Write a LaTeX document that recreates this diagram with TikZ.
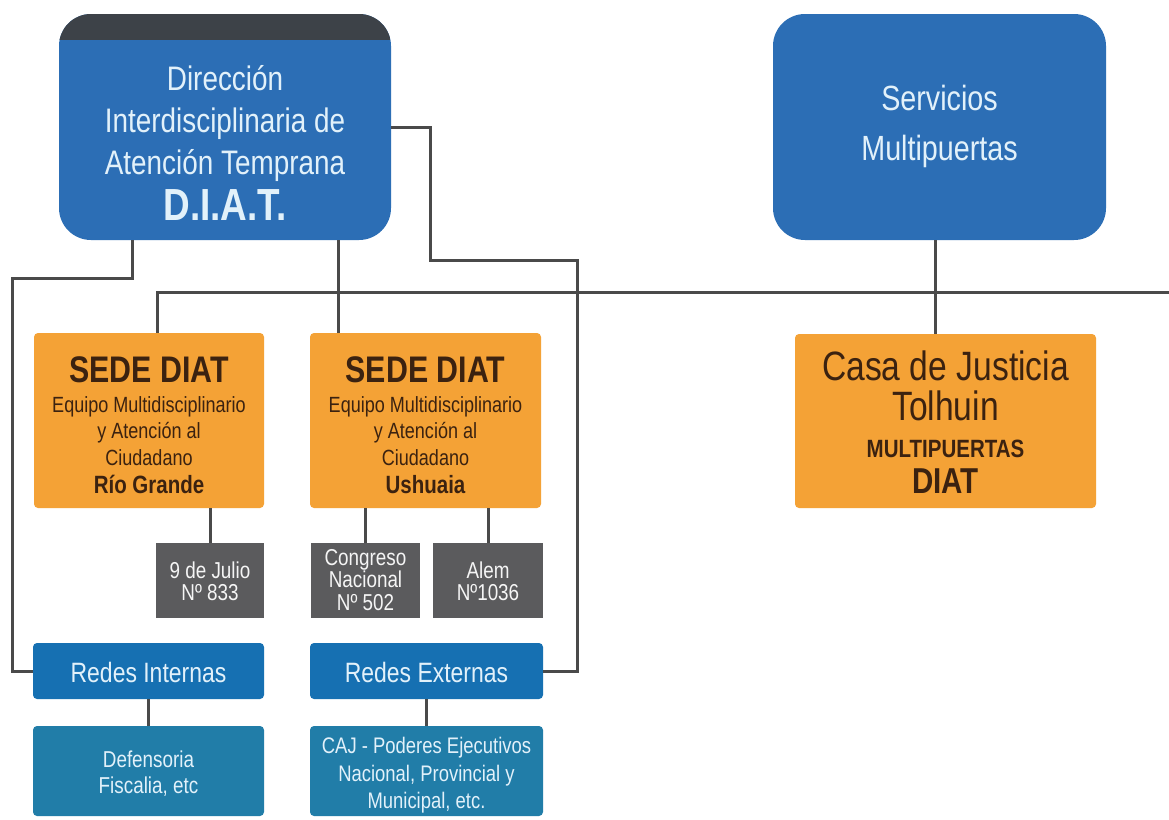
\documentclass[tikz,border=0pt]{standalone}
\usepackage{fontspec}
\setmainfont[FakeStretch=0.82]{Liberation Sans}
\newcommand\fsz[1]{\fontsize{#1}{#1}\selectfont}
\definecolor{mainblue}{RGB}{44,110,181}
\definecolor{darkband}{RGB}{61,66,72}
\definecolor{orangebox}{RGB}{244,162,54}
\definecolor{graybox}{RGB}{91,91,93}
\definecolor{redesblue}{RGB}{22,112,178}
\definecolor{lowblue}{RGB}{33,125,168}
\definecolor{linegray}{RGB}{74,74,74}
\definecolor{paletext}{RGB}{226,241,250}
\definecolor{browntext}{RGB}{59,34,16}
\tikzset{
  boxbase/.style={draw=none, inner sep=0pt, outer sep=0pt},
  bigblue/.style={boxbase, fill=mainblue, rounded corners=32pt},
  sedebox/.style={boxbase, fill=orangebox, rounded corners=4pt},
  addrbox/.style={boxbase, fill=graybox},
  redbox/.style={boxbase, fill=redesblue, rounded corners=4pt},
  lowbox/.style={boxbase, fill=lowblue, rounded corners=4pt},
  txt/.style={inner sep=0pt, anchor=base, align=center},
  bluetxt/.style={txt, text=paletext},
  browntxt/.style={txt, text=browntext},
  graytxt/.style={txt, text=white!92!gray},
  conn/.style={draw=linegray, line width=3pt}
}
\begin{document}
\begin{tikzpicture}[x=1pt,y=-1pt]
\useasboundingbox (0,0) rectangle (1169,819);
\fill[white] (0,0) rectangle (1169,819);

\coordinate (lcorner) at (12,278);
\coordinate (r1) at (430,260);
\coordinate (r2) at (577,260);
\coordinate (hR) at (1169,292);

% boxes
\node[bigblue, minimum width=332pt, minimum height=226pt] (diat) at (225,127) {};
\node[bigblue, minimum width=333pt, minimum height=226pt] (serv) at (939.5,127) {};
\node[sedebox, minimum width=230pt, minimum height=175pt] (sedeRG) at (149,420.5) {};
\node[sedebox, minimum width=231pt, minimum height=175pt] (sedeUS) at (425.5,420.5) {};
\node[sedebox, minimum width=301pt, minimum height=174pt] (casa) at (945.5,421) {};
\node[addrbox, minimum width=108pt, minimum height=75pt] (julio) at (210,580.5) {};
\node[addrbox, minimum width=109pt, minimum height=75pt] (congreso) at (365.5,580.5) {};
\node[addrbox, minimum width=110pt, minimum height=75pt] (alem) at (488,580.5) {};
\node[redbox, minimum width=231pt, minimum height=56pt] (redInt) at (148.5,671) {};
\node[redbox, minimum width=233pt, minimum height=56pt] (redExt) at (426.5,671) {};
\node[lowbox, minimum width=231pt, minimum height=90pt] (def) at (148.5,771) {};
\node[lowbox, minimum width=233pt, minimum height=90pt] (caj) at (426.5,771) {};

% dark band on top of DIAT box
\begin{scope}
\clip[rounded corners=32pt] (diat.north west) rectangle (diat.south east);
\fill[darkband] (diat.north west) rectangle ([yshift=-26pt]diat.north east);
\end{scope}

% connectors
\draw[conn] ([xshift=73pt]diat.south west) |- (lcorner) |- (redInt.west);
\path ([xshift=-87.5pt]sedeUS.north) coordinate (m1);
\draw[conn] (m1) -- (m1 |- diat.south);
\draw[conn] (diat.east) -| (r1) -- (r2) |- (redExt.east);
\draw[conn] (hR) -| ([xshift=8pt]sedeRG.north);
\path ([xshift=-4.5pt]serv.south) coordinate (s1);
\draw[conn] (s1) -- (s1 |- casa.north);
\draw[conn] (julio.north) -- (julio.north |- sedeRG.south);
\draw[conn] (congreso.north) -- (congreso.north |- sedeUS.south);
\draw[conn] (alem.north) -- (alem.north |- sedeUS.south);
\draw[conn] (def.north) -- (def.north |- redInt.south);
\draw[conn] (caj.north) -- (caj.north |- redExt.south);

% DIAT texts
\node[bluetxt, font=\fsz{34}] (d1) at (225,90) {Dirección};
\node[bluetxt, font=\fsz{34}] (d2) at (225,132) {Interdisciplinaria de};
\node[bluetxt, font=\fsz{34}] (d3) at (225,174) {Atención Temprana};
\node[bluetxt, font=\bfseries\fsz{45}] (d4) at (225,220) {D.I.A.T.};

% Servicios texts
\node[bluetxt, font=\fsz{35}] (s1t) at (939.5,110) {Servicios};
\node[bluetxt, font=\fsz{35}] (s2t) at (939.5,160) {Multipuertas};

% Sede Rio Grande
\node[browntxt, font=\bfseries\fsz{37}] (rg1) at (149,382) {SEDE DIAT};
\node[browntxt, font=\fsz{22}] (rg2) at (149,412) {Equipo Multidisciplinario};
\node[browntxt, font=\fsz{22}] (rg3) at (149,438) {y Atención al};
\node[browntxt, font=\fsz{22}] (rg4) at (149,465) {Ciudadano};
\node[browntxt, font=\bfseries\fsz{25}] (rg5) at (149,493) {Río Grande};

% Sede Ushuaia
\node[browntxt, font=\bfseries\fsz{37}] (us1) at (425.5,382) {SEDE DIAT};
\node[browntxt, font=\fsz{22}] (us2) at (425.5,412) {Equipo Multidisciplinario};
\node[browntxt, font=\fsz{22}] (us3) at (425.5,438) {y Atención al};
\node[browntxt, font=\fsz{22}] (us4) at (425.5,465) {Ciudadano};
\node[browntxt, font=\bfseries\fsz{25}] (us5) at (425.5,493) {Ushuaia};

% Casa de Justicia
\node[browntxt, font=\fsz{41}] (c1) at (945.5,380) {Casa de Justicia};
\node[browntxt, font=\fsz{41}] (c2) at (945.5,420) {Tolhuin};
\node[browntxt, font=\bfseries\fsz{25}] (c3) at (945.5,457) {MULTIPUERTAS};
\node[browntxt, font=\bfseries\fsz{36}] (c4) at (945.5,493) {DIAT};

% addresses
\node[graytxt, font=\fsz{23}] (j1) at (210,578) {9 de Julio};
\node[graytxt, font=\fsz{23}] (j2) at (210,600) {Nº 833};
\node[graytxt, font=\fsz{23}] (g1) at (365.5,565) {Congreso};
\node[graytxt, font=\fsz{23}] (g2) at (365.5,587) {Nacional};
\node[graytxt, font=\fsz{23}] (g3) at (365.5,610) {Nº 502};
\node[graytxt, font=\fsz{23}] (a1) at (488,578) {Alem};
\node[graytxt, font=\fsz{23}] (a2) at (488,600) {Nº1036};

% Redes
\node[bluetxt, font=\fsz{28}] (ri) at (148.5,682) {Redes Internas};
\node[bluetxt, font=\fsz{28}] (re) at (426.5,682) {Redes Externas};

% bottom boxes
\node[bluetxt, font=\fsz{23}] (df1) at (148.5,767) {Defensoria};
\node[bluetxt, font=\fsz{23}] (df2) at (148.5,793) {Fiscalia, etc};
\node[bluetxt, font=\fsz{22.5}] (cj1) at (426.5,753) {CAJ - Poderes Ejecutivos};
\node[bluetxt, font=\fsz{22.5}] (cj2) at (426.5,781) {Nacional, Provincial y};
\node[bluetxt, font=\fsz{22.5}] (cj3) at (426.5,808) {Municipal, etc.};
\end{tikzpicture}
\end{document}
